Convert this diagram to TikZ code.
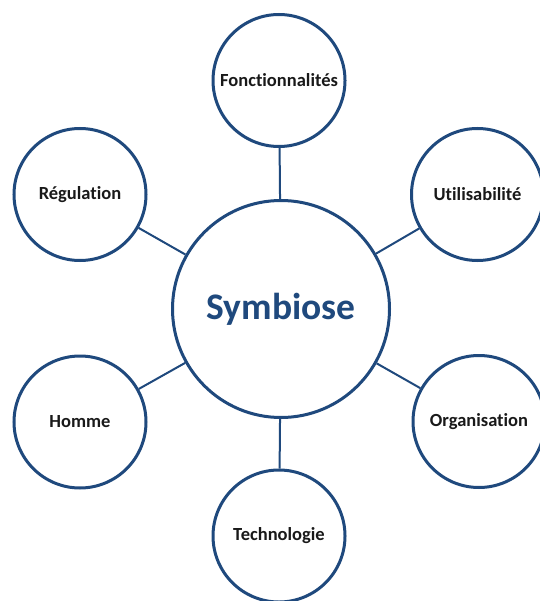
\documentclass[tikz,border=0pt]{standalone}
\usepackage{fontspec}
\setmainfont{Carlito}[Ligatures={NoCommon}]
\usepackage{tikz}
\definecolor{navy}{HTML}{1F497D}

\begin{document}
\begin{tikzpicture}[x=1pt,y=-1pt]
      \tikzstyle{hub}=[circle,line width=3pt,draw=navy,fill=white,inner sep=0pt,minimum size=217pt,
        text=navy,font=\fontsize{37.5}{40}\selectfont\bfseries]
      \tikzstyle{sat}=[circle,line width=3pt,draw=navy,fill=white,inner sep=0pt,minimum size=132pt,
        text=black!90,font=\fontsize{18.5}{20}\selectfont\bfseries]
      \tikzstyle{link}=[line width=2pt,draw=navy]

      \useasboundingbox (0,0) rectangle (539,601);

      \node[hub](sym) at (281,309){Symbiose};

      \node[sat](fonc) at (279,80.5){Fonctionnalit\'es};
      \node[sat](reg) at (80,194.5){R\'egulation};
      \node[sat](util) at (477.5,194.5){Utilisabilit\'e};
      \node[sat](hom) at (80,422){Homme};
      \node[sat](org) at (479,421.5){Organisation};
      \node[sat](tech) at (279,536){Technologie};

      \path[link]
      (sym) edge (fonc)
      (sym) edge (reg)
      (sym) edge (util)
      (sym) edge (hom)
      (sym) edge (org)
      (sym) edge (tech);
    \end{tikzpicture}
\end{document}
